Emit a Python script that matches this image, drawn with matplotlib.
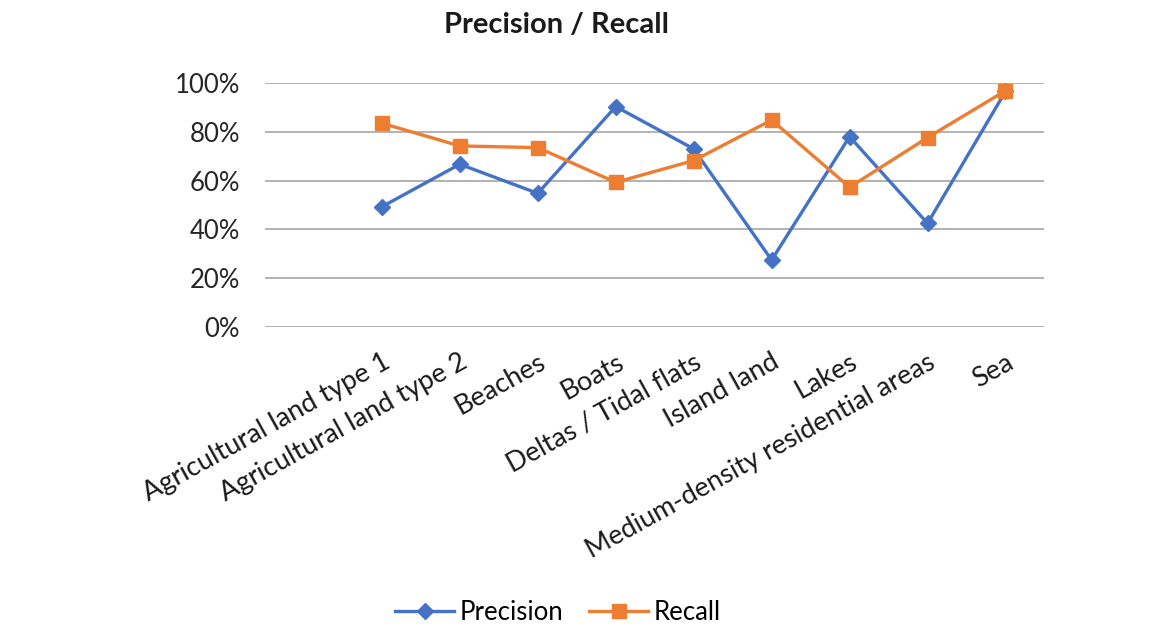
import numpy as np
import matplotlib
matplotlib.use("Agg")
import matplotlib.pyplot as plt
from matplotlib.ticker import PercentFormatter

plt.rcParams['font.family'] = ['Lato', 'DejaVu Sans']

# first slot is an empty category in the source chart
categories = ['', 'Agricultural land type 1', 'Agricultural land type 2', 'Beaches',
              'Boats', 'Deltas / Tidal flats', 'Island land', 'Lakes',
              'Medium-density residential areas', 'Sea']
precision = [np.nan, 0.493, 0.667, 0.548, 0.903, 0.730, 0.275, 0.780, 0.425, 0.965]
recall = [np.nan, 0.835, 0.742, 0.735, 0.593, 0.682, 0.848, 0.573, 0.776, 0.968]

blue = '#4472C4'
orange = '#ED7D31'

fig = plt.figure(figsize=(11.67, 6.28), dpi=100)
ax = fig.add_axes([0.227, 0.479, 0.668, 0.389])

x = np.arange(len(categories))
ax.plot(x, precision, color=blue, lw=2.4, marker='D', ms=8, label='Precision')
ax.plot(x, recall, color=orange, lw=2.4, marker='s', ms=10, label='Recall')

ax.set_xlim(-0.5, len(categories) - 0.5)
ax.set_ylim(0, 1.0)
ax.set_yticks(np.arange(0, 1.01, 0.2))
ax.yaxis.set_major_formatter(PercentFormatter(1.0, decimals=0))
ax.grid(axis='y', color='#a6a6a6', lw=1.2)
ax.set_axisbelow(True)
for s in ax.spines.values():
    s.set_visible(False)
ax.tick_params(axis='y', length=0, pad=18, labelsize=18.5, labelcolor='#262626')
ax.tick_params(axis='x', length=0, pad=16, labelsize=19.5, labelcolor='#1a1a1a')
ax.set_xticks(x)
ax.set_xticklabels(categories, rotation=29, ha='right', rotation_mode='anchor')

fig.text(0.477, 0.96, 'Precision / Recall', ha='center', va='center',
         fontsize=21, fontweight='bold', color='#1a1a1a')

fig.legend(loc='center', bbox_to_anchor=(0.478, 0.024), ncol=2, frameon=False,
           fontsize=18.5, handlelength=2.3, columnspacing=1.0, handletextpad=0.2)

fig.savefig('out.png', dpi=100)
